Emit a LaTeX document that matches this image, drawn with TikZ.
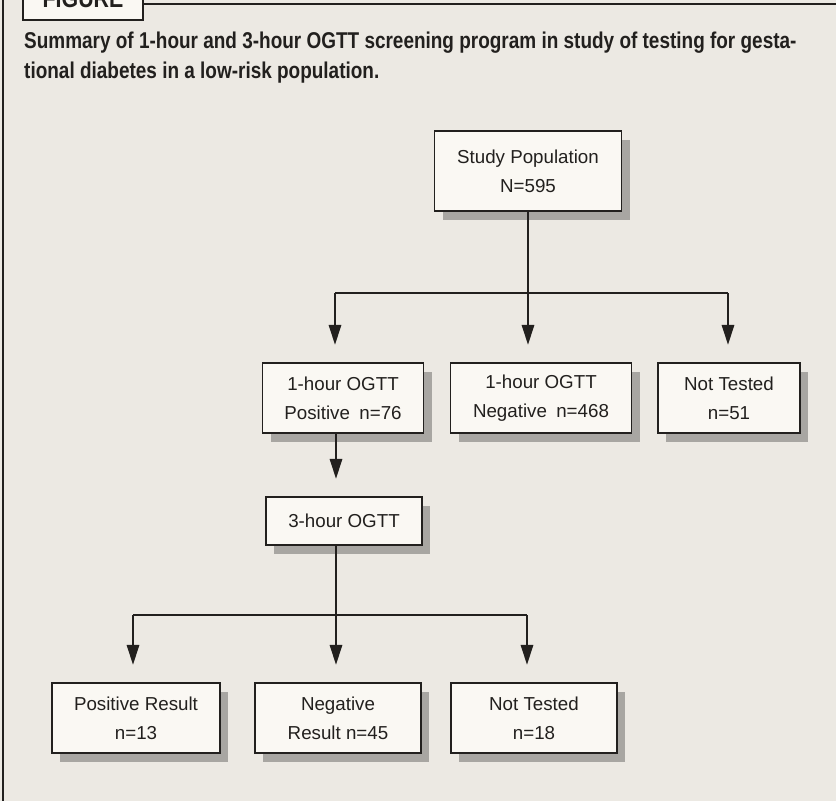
\documentclass[tikz,border=0pt]{standalone}
\usepackage{fontspec}
\usetikzlibrary{arrows.meta,shadows}
\setmainfont{Liberation Sans}
\newfontfamily\capfont[FakeStretch=0.83]{Liberation Sans}
\definecolor{pagebg}{RGB}{236,233,227}
\definecolor{boxbg}{RGB}{250,248,243}
\definecolor{ink}{RGB}{34,32,30}
\definecolor{shade}{RGB}{168,166,162}

\begin{document}
\begin{tikzpicture}[x=0.03cm, y=-0.03cm,
  box/.style={draw=ink, line width=1pt, fill=boxbg, align=center, inner sep=2pt,
    text=ink, font=\fontsize{16}{25}\selectfont,
    drop shadow={shadow xshift=7pt, shadow yshift=-7.5pt, fill=shade, opacity=1}},
  link/.style={draw=ink, line width=1.8pt},
  arr/.style={link, -{Triangle[length=17pt, width=10.5pt]}, shorten >=15pt},
  captxt/.style={anchor=base west, inner sep=0pt, text=ink,
    font=\capfont\bfseries\fontsize{19.5}{25.6}\selectfont}
]
\path[use as bounding box, fill=pagebg] (0,0) rectangle (836,801);
\clip (0,0) rectangle (836,801);

% frame and tab
\draw[ink, line width=1.3pt] (3,0) -- (3,801);
\draw[ink, line width=1.3pt] (143,4) -- (836,4);
\draw[ink, line width=1pt, fill=boxbg] (23,-10) rectangle (143,20);
\node[captxt, anchor=base, font=\capfont\bfseries\fontsize{22}{24}\selectfont] (figtab) at (83,7) {FIGURE};

% caption
\node[captxt] (cap1) at (24,48) {Summary of 1-hour and 3-hour OGTT screening program in study of testing for gesta-};
\node[captxt] (cap2) at (24,78) {tional diabetes in a low-risk population.};

% boxes
\node[box, minimum width=5.61cm, minimum height=2.4cm] (study) at (528,171) {Study Population\\N=595};

\node[box, minimum width=4.83cm, minimum height=2.1cm] (pos1) at (343,398) {1-hour OGTT\\Positive\enspace n=76};
\node[box, minimum width=5.43cm, minimum height=2.1cm] (neg1) at (541,398) {1-hour OGTT\\Negative\enspace n=468};
\node[box, minimum width=4.26cm, minimum height=2.1cm] (nt1) at (729,398) {Not Tested\\n=51};

\node[box, minimum width=4.68cm, minimum height=1.44cm] (ogtt3) at (344,521) {3-hour OGTT};

\node[box, minimum width=5.04cm, minimum height=2.1cm] (posres) at (136,718) {Positive Result\\n=13};
\node[box, minimum width=4.98cm, minimum height=2.1cm] (negres) at (338,718) {Negative\\Result n=45};
\node[box, minimum width=4.98cm, minimum height=2.1cm] (nt3) at (534,718) {Not Tested\\n=18};

% junctions
\coordinate (j1) at (528,293);
\coordinate (j1l) at (335,293);
\coordinate (j1r) at (728,293);
\coordinate (j2) at (336,615);
\coordinate (j2l) at (133,615);
\coordinate (j2r) at (527,615);

% connectors
\draw[link] (study) -- (j1);
\draw[link] (j1l) -- (j1r);
\draw[arr] (j1l) -- (j1l |- pos1.north);
\draw[arr] (j1) -- (j1 |- neg1.north);
\draw[arr] (j1r) -- (j1r |- nt1.north);

\draw[arr] (pos1.south -| j2) -- (ogtt3.north -| j2);
\draw[link] (ogtt3.south -| j2) -- (j2);
\draw[link] (j2l) -- (j2r);
\draw[arr] (j2l) -- (j2l |- posres.north);
\draw[arr] (j2) -- (j2 |- negres.north);
\draw[arr] (j2r) -- (j2r |- nt3.north);
\end{tikzpicture}
\end{document}
